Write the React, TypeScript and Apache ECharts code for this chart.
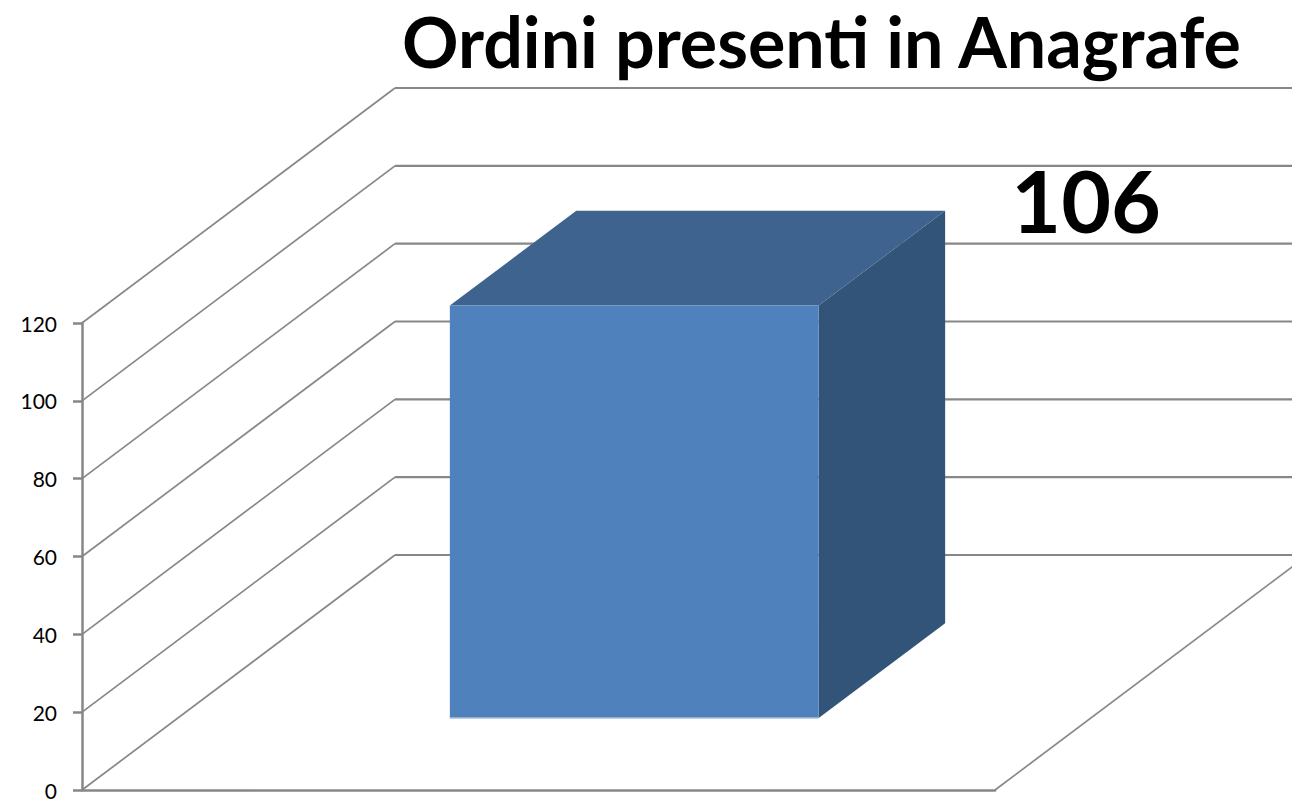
import React, { useEffect, useRef } from "react";
import * as echarts from "echarts";

const categories: string[] = ["Ordini"];
const values: number[] = [106];
const yMin = 0;
const yMax = 120;
const yInterval = 20;
const yTicks: number[] = [0, 20, 40, 60, 80, 100, 120];
const titleText = "Ordini presenti in Anagrafe";

// 3D projection constants (layout)
const DEPTH_DX = 313;
const DEPTH_DY = -235;
const BAR_D0 = 0.306;
const BAR_D1 = 0.71;
const BAR_W = 0.404;

const LINE = "#878787";

export default function App() {
  const ref = useRef<HTMLDivElement>(null);
  useEffect(() => {
    document.body.style.margin = "0";
    const chart = echarts.init(ref.current!, null, { renderer: "svg" });
    const option: any = {
      animation: false,
      backgroundColor: "#ffffff",
      title: {
        text: titleText,
        left: 397,
        top: 1,
        textStyle: {
          fontFamily: "Lato",
          fontWeight: "bold",
          fontSize: 70,
          color: "#000",
        },
      },
      grid: { left: 82, right: 297, top: 323, bottom: 11, containLabel: false },
      xAxis: {
        type: "category",
        data: categories,
        axisLine: { show: true, lineStyle: { color: LINE, width: 2.5 } },
        axisTick: { show: false },
        axisLabel: { show: false },
        splitLine: { show: false },
      },
      yAxis: {
        type: "value",
        min: yMin,
        max: yMax,
        interval: yInterval,
        axisLine: { show: true, lineStyle: { color: LINE, width: 2.5 } },
        axisTick: { show: true, length: 9, lineStyle: { color: LINE, width: 2.5 } },
        axisLabel: {
          fontFamily: "Lato",
          fontSize: 21,
          lineHeight: 16,
          color: "#000",
          margin: 25,
        },
        splitLine: { show: false },
      },
      series: [
        {
          type: "custom",
          name: "walls",
          clip: false,
          z: 1,
          data: yTicks.map((t) => [0, t]),
          encode: { x: 0, y: 1 },
          renderItem: (params: any, api: any) => {
            const cs = params.coordSys;
            const v = api.value(1);
            const y = api.coord([0, v])[1];
            const x0 = cs.x;
            const x1 = cs.x + cs.width;
            const children: any[] = [
              {
                type: "line",
                shape: { x1: x0, y1: y, x2: x0 + DEPTH_DX, y2: y + DEPTH_DY },
                style: { stroke: LINE, lineWidth: 1.7 },
              },
              {
                type: "line",
                shape: { x1: x0 + DEPTH_DX, y1: y + DEPTH_DY, x2: x1 + DEPTH_DX, y2: y + DEPTH_DY },
                style: { stroke: LINE, lineWidth: 2.2 },
              },
            ];
            if (v === yMin) {
              children.push({
                type: "line",
                shape: { x1: x1, y1: y, x2: x1 + DEPTH_DX, y2: y + DEPTH_DY },
                style: { stroke: LINE, lineWidth: 1.7 },
              });
            }
            return { type: "group", children };
          },
        },
        {
          type: "custom",
          name: "Ordini",
          clip: false,
          z: 2,
          data: values.map((v, i) => [i, v]),
          encode: { x: 0, y: 1 },
          renderItem: (params: any, api: any) => {
            const v = api.value(1);
            const topPt = api.coord([api.value(0), v]);
            const basePt = api.coord([api.value(0), yMin]);
            const band = api.size([1, 0])[0];
            const w = band * BAR_W;
            const fx0 = topPt[0] - w / 2 + DEPTH_DX * BAR_D0;
            const fx1 = fx0 + w;
            const ty = topPt[1] + DEPTH_DY * BAR_D0;
            const by = basePt[1] + DEPTH_DY * BAR_D0;
            const ddx = DEPTH_DX * (BAR_D1 - BAR_D0);
            const ddy = DEPTH_DY * (BAR_D1 - BAR_D0);
            return {
              type: "group",
              children: [
                {
                  type: "polygon",
                  shape: { points: [[fx1, ty], [fx1 + ddx, ty + ddy], [fx1 + ddx, by + ddy], [fx1, by]] },
                  style: { fill: "#335479" },
                },
                {
                  type: "polygon",
                  shape: { points: [[fx0, ty], [fx1, ty], [fx1 + ddx, ty + ddy], [fx0 + ddx, ty + ddy]] },
                  style: { fill: "#3E638E" },
                },
                {
                  type: "rect",
                  shape: { x: fx0, y: ty, width: w, height: by - ty },
                  style: { fill: "#4F81BD" },
                },
                {
                  type: "line",
                  shape: { x1: fx0, y1: by, x2: fx1, y2: by },
                  style: { stroke: "#A9BFDD", lineWidth: 1.5 },
                },
                {
                  type: "text",
                  style: {
                    text: String(v),
                    x: fx1 + ddx + 141,
                    y: ty + ddy - 11,
                    align: "center",
                    verticalAlign: "middle",
                    fontFamily: "Lato",
                    fontWeight: "bold",
                    fontSize: 86,
                    fill: "#000",
                  },
                },
              ],
            };
          },
        },
      ],
    };
    chart.setOption(option);
    return () => chart.dispose();
  }, []);
  return <div ref={ref} style={{ width: 1292, height: 801 }} />;
}
